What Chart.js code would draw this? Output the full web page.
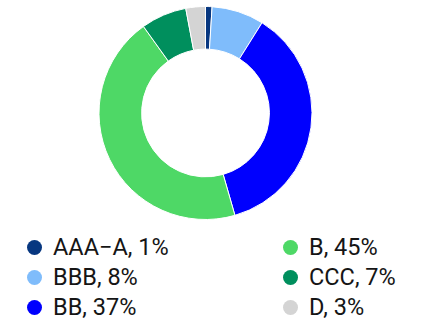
<!DOCTYPE html>
<html>
<head>
<meta charset="utf-8">
<script src="https://cdn.jsdelivr.net/npm/chart.js@4/dist/chart.umd.min.js"></script>
<style>
  html, body { margin: 0; padding: 0; background: #fff; }
  body { width: 428px; height: 320px; position: relative; overflow: hidden; font-family: Roboto, sans-serif; }
  #wrap { position: absolute; left: 0; top: 0; width: 428px; height: 226px; }
  #legend {
    position: absolute; left: 27px; top: 232px; width: 400px;
    display: grid; grid-template-columns: 256px 140px; grid-template-rows: repeat(3, 30px);
    grid-auto-flow: column;
  }
  .item { display: flex; align-items: center; font-size: 23.5px; color: #151515; white-space: nowrap; }
  .dot { width: 15px; height: 15px; border-radius: 50%; margin-right: 11px; flex: none; }
</style>
</head>
<body>
<div id="wrap"><canvas id="donut"></canvas></div>
<div id="legend"></div>
<script>
/* ratings breakdown, clockwise from the top */
var ratings = ['AAA\u2212A', 'BBB', 'BB', 'B', 'CCC', 'D'];
var shares  = [1, 8, 37, 45, 7, 3];
var colors  = ['#073780', '#7fbcfb', '#0000fe', '#4ed866', '#008f5d', '#d4d4d4'];

/* legend, two columns filled top to bottom */
var legend = document.getElementById('legend');
ratings.forEach(function(r, i) {
  var item = document.createElement('div');
  item.className = 'item';
  item.innerHTML = '<span class="dot" style="background:' + colors[i] + '"></span>' +
                   '<span>' + r + ', ' + shares[i] + '%</span>';
  legend.appendChild(item);
});

new Chart(document.getElementById('donut'), {
  type: 'doughnut',
  data: {
    labels: ratings,
    datasets: [{
      data:            shares,
      backgroundColor: colors,
      borderColor:     '#fff',
      borderWidth:     1,
      hoverOffset:     0,
    }],
  },
  options: {
    responsive:          true,
    maintainAspectRatio: false,
    animation:           false,
    cutout:              '60%',
    layout: { padding: { top: 6, bottom: 6, left: 0, right: 17 } },
    plugins: { legend: { display: false }, tooltip: { enabled: false } },
  },
});
</script>
</body>
</html>
